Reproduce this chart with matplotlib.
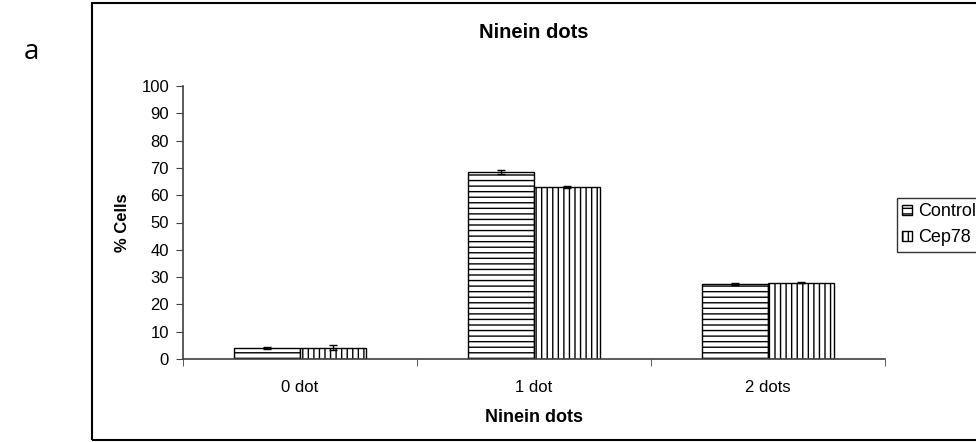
import matplotlib.pyplot as plt
import numpy as np
from matplotlib.patches import Rectangle

plt.rcParams['font.family'] = ['Liberation Sans', 'DejaVu Sans']
plt.rcParams['hatch.linewidth'] = 1.0

categories = ['0 dot', '1 dot', '2 dots']
control = [4.0, 68.5, 27.5]
control_err = [0.3, 0.7, 0.5]
cep78 = [4.1, 63.0, 28.0]
cep78_err = [0.9, 0.4, 0.2]

fig = plt.figure(figsize=(9.76, 4.42), dpi=100)
fig.patches.append(Rectangle((92/976, 2/442), 1.0, 1 - 5/442, transform=fig.transFigure,
                             fill=False, edgecolor='black', linewidth=1.5))
fig.text(24/976, 1 - 52/442, 'a', fontsize=20, family=['Open Sans', 'DejaVu Sans'], va='center')

ax = fig.add_axes([183/976, 1 - 359/442, (885-183)/976, (359-86)/442])

x = np.arange(len(categories))
w = 0.283
ax.bar(x - w/2, control, w, yerr=control_err, color='white', edgecolor='black', hatch='---',
       linewidth=1, label='Control', error_kw=dict(ecolor='black', capsize=3, elinewidth=1, capthick=1))
ax.bar(x + w/2, cep78, w, yerr=cep78_err, color='white', edgecolor='black', hatch='|||',
       linewidth=1, label='Cep78', error_kw=dict(ecolor='black', capsize=3, elinewidth=1, capthick=1))

ax.set_xlim(-0.5, 2.5)
ax.set_ylim(0, 100)
ax.set_yticks(range(0, 101, 10))
ax.set_xticks(x)
ax.set_xticklabels(categories)
ax.set_xticks([-0.5, 0.5, 1.5, 2.5], minor=True)
ax.tick_params(axis='x', which='major', length=0, pad=15, labelsize=12)
ax.tick_params(axis='x', which='minor', length=5, direction='out', color='#404040')
ax.tick_params(axis='y', length=5, direction='out', color='#404040', labelsize=12, pad=5)
for s in ['top', 'right']:
    ax.spines[s].set_visible(False)
for s in ['left', 'bottom']:
    ax.spines[s].set_color('#404040')
    ax.spines[s].set_linewidth(1.2)

ax.set_ylabel('% Cells', fontsize=12, fontweight='bold', labelpad=8)
ax.set_xlabel('Ninein dots', fontsize=13, fontweight='bold', labelpad=10)
fig.text((183+885)/2/976, 1 - 33/442, 'Ninein dots', fontsize=14.5, fontweight='bold',
         ha='center', va='center')

leg = fig.legend(loc='upper left', bbox_to_anchor=(897/976, 1 - 198/442), fontsize=13,
                 frameon=True, fancybox=False, edgecolor='black', handlelength=0.55,
                 handleheight=0.55, handletextpad=0.3, borderpad=0.3, labelspacing=0.5,
                 borderaxespad=0)
leg.get_frame().set_linewidth(1)

fig.savefig('out.png', dpi=100)
